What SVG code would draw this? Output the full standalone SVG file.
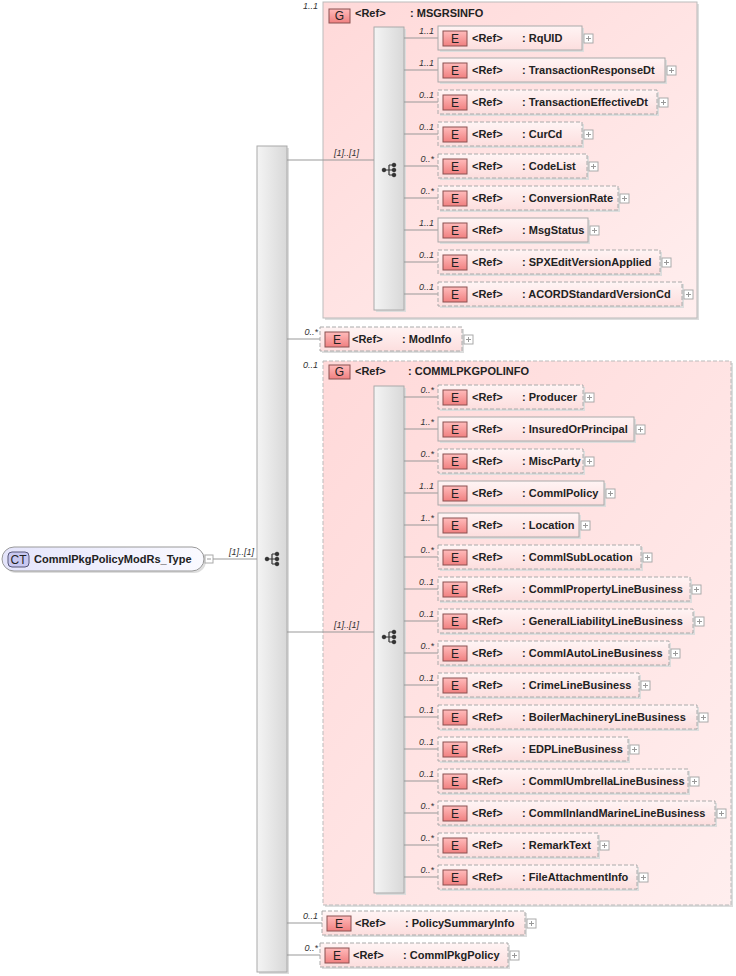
<svg xmlns="http://www.w3.org/2000/svg" width="736" height="976" viewBox="0 0 736 976">
<defs>
<linearGradient id="gE" x1="0" y1="0" x2="0" y2="1"><stop offset="0" stop-color="#fff4f4"/><stop offset="1" stop-color="#fcdede"/></linearGradient>
<linearGradient id="gL" x1="0" y1="0" x2="0" y2="1"><stop offset="0" stop-color="#fbb"/><stop offset="1" stop-color="#f08080"/></linearGradient>
<linearGradient id="gG" x1="0" y1="0" x2="1" y2="1"><stop offset="0" stop-color="#ffd9d9"/><stop offset="1" stop-color="#ffeeee"/></linearGradient>
<linearGradient id="gB" x1="0" y1="0" x2="1" y2="0"><stop offset="0" stop-color="#f4f4f4"/><stop offset="1" stop-color="#d8d8d8"/></linearGradient>
<linearGradient id="gC" x1="0" y1="0" x2="1" y2="0"><stop offset="0" stop-color="#e4e4fb"/><stop offset="1" stop-color="#fafaff"/></linearGradient>
</defs>
<style>
.sh{fill:#ddd;stroke:none}
.eb{fill:url(#gE);stroke:#aaa;stroke-width:1}
.d{stroke-dasharray:4 2}
.lb{fill:url(#gL);stroke:#8a5050;stroke-width:1}
.lt{font:12px "Liberation Sans",Arial,sans-serif;fill:#222;text-anchor:middle}
.t{font:bold 11px "Liberation Sans",Arial,sans-serif;fill:#222}
.c{font:italic 9px "Liberation Sans",Arial,sans-serif;fill:#333;text-anchor:end}
.pl{fill:#fff;stroke:#aaa}
.pp{stroke:#999;fill:none}
.ln{stroke:#999;fill:none}
.bar{fill:url(#gB);stroke:#aaa}
.grp{fill:url(#gG);stroke:#bbb}
.ic{fill:#333;stroke:#333}
</style>

<g id="root">
<rect x="4" y="549" width="202" height="24" rx="12" fill="#ddd"/>
<rect x="2" y="547" width="202" height="24" rx="12" fill="url(#gC)" stroke="#999"/>
<rect x="8" y="552" width="21" height="15" rx="4" fill="#c8c8f0" stroke="#557"/>
<text class="lt" x="18.5" y="564">CT</text>
<text class="t" x="34" y="563">CommlPkgPolicyModRs_Type</text>
<rect class="pl" x="205" y="555" width="8" height="8"/><path class="pp" d="M207 559h4"/>
</g>

<g id="seq-main">
<rect x="259" y="148" width="30" height="826" fill="#ddd"/>
<rect class="bar" x="257" y="146" width="30" height="826"/>
<g class="ic" transform="translate(272,559)"><path d="M-5 0H0M0-5V5M0-5H4M0 0H4M0 5H4" fill="none" stroke-width="1.2"/><circle cx="-5" cy="0" r="1.8"/><circle cx="5" cy="-5" r="1.8"/><circle cx="5" cy="0" r="1.8"/><circle cx="5" cy="5" r="1.8"/></g>
</g>

<g id="MSGRSINFO">
<rect x="325" y="4" width="374" height="316" fill="#ddd"/>
<rect class="grp" x="323" y="2" width="374" height="316"/>
<text class="c" x="318" y="9">1..1</text>
<rect x="329" y="9" width="21" height="14" fill="url(#gL)" stroke="#8a5050"/>
<text class="lt" x="339.5" y="20">G</text>
<text class="t" x="355" y="17">&lt;Ref&gt;</text>
<text class="t" x="410" y="17">: MSGRSINFO</text>
<rect x="376" y="29" width="30" height="283" fill="#ddd"/>
<rect class="bar" x="374" y="27" width="30" height="283"/>
<g class="ic" transform="translate(389,170)"><path d="M-5 0H0M0-5V5M0-5H4M0 0H4M0 5H4" fill="none" stroke-width="1.2"/><circle cx="-5" cy="0" r="1.8"/><circle cx="5" cy="-5" r="1.8"/><circle cx="5" cy="0" r="1.8"/><circle cx="5" cy="5" r="1.8"/></g>
</g>

<g id="COMMLPKGPOLINFO">
<rect x="325" y="363" width="408" height="544" fill="#ddd"/>
<rect class="grp d" x="323" y="361" width="408" height="544"/>
<text class="c" x="318" y="368">0..1</text>
<rect x="329" y="365" width="21" height="14" fill="url(#gL)" stroke="#8a5050"/>
<text class="lt" x="339.5" y="376">G</text>
<text class="t" x="355" y="375">&lt;Ref&gt;</text>
<text class="t" x="408" y="375">: COMMLPKGPOLINFO</text>
<rect x="376" y="388" width="30" height="507" fill="#ddd"/>
<rect class="bar" x="374" y="386" width="30" height="507"/>
<g class="ic" transform="translate(389,637)"><path d="M-5 0H0M0-5V5M0-5H4M0 0H4M0 5H4" fill="none" stroke-width="1.2"/><circle cx="-5" cy="0" r="1.8"/><circle cx="5" cy="-5" r="1.8"/><circle cx="5" cy="0" r="1.8"/><circle cx="5" cy="5" r="1.8"/></g>
</g>

<g id="connectors">
<path class="ln" d="M213 559H257M287 160H374M287 339H320M287 632H374M287 923H322M287 955H320"/>
<path class="ln" d="M404 38H438M404 70H438M404 102H438M404 134H438M404 166H438M404 198H438M404 230H438M404 262H438M404 294H438"/>
<path class="ln" d="M404 397H438M404 429H438M404 461H438M404 493H438M404 525H438M404 557H438M404 589H438M404 621H438M404 653H438M404 685H438M404 717H438M404 749H438M404 781H438M404 813H438M404 845H438M404 877H438"/>
<text class="c" x="254" y="555">[1]..[1]</text>
<text class="c" x="359" y="156">[1]..[1]</text>
<text class="c" x="359" y="628">[1]..[1]</text>
</g>

<g id="RqUID" transform="translate(438,38)"><rect class="sh" x="2" y="-10" width="144" height="24"/><rect class="eb" x="0" y="-12" width="144" height="24"/><rect class="lb" x="5" y="-7" width="24" height="15"/><text class="lt" x="17" y="5">E</text><text class="t" x="34" y="4">&lt;Ref&gt;</text><text class="t" x="84" y="4">: RqUID</text><rect class="pl" x="146" y="-4" width="9" height="9"/><path class="pp" d="M148 0.5h5M150.5 -2v5"/><text class="c" x="-4" y="-4">1..1</text></g>
<g id="TransactionResponseDt" transform="translate(438,70)"><rect class="sh" x="2" y="-10" width="227" height="24"/><rect class="eb" x="0" y="-12" width="227" height="24"/><rect class="lb" x="5" y="-7" width="24" height="15"/><text class="lt" x="17" y="5">E</text><text class="t" x="34" y="4">&lt;Ref&gt;</text><text class="t" x="84" y="4">: TransactionResponseDt</text><rect class="pl" x="229" y="-4" width="9" height="9"/><path class="pp" d="M231 0.5h5M233.5 -2v5"/><text class="c" x="-4" y="-4">1..1</text></g>
<g id="TransactionEffectiveDt" transform="translate(438,102)"><rect class="sh" x="2" y="-10" width="219" height="24"/><rect class="eb d" x="0" y="-12" width="219" height="24"/><rect class="lb" x="5" y="-7" width="24" height="15"/><text class="lt" x="17" y="5">E</text><text class="t" x="34" y="4">&lt;Ref&gt;</text><text class="t" x="84" y="4">: TransactionEffectiveDt</text><rect class="pl" x="221" y="-4" width="9" height="9"/><path class="pp" d="M223 0.5h5M225.5 -2v5"/><text class="c" x="-4" y="-4">0..1</text></g>
<g id="CurCd" transform="translate(438,134)"><rect class="sh" x="2" y="-10" width="144" height="24"/><rect class="eb d" x="0" y="-12" width="144" height="24"/><rect class="lb" x="5" y="-7" width="24" height="15"/><text class="lt" x="17" y="5">E</text><text class="t" x="34" y="4">&lt;Ref&gt;</text><text class="t" x="84" y="4">: CurCd</text><rect class="pl" x="146" y="-4" width="9" height="9"/><path class="pp" d="M148 0.5h5M150.5 -2v5"/><text class="c" x="-4" y="-4">0..1</text></g>
<g id="CodeList" transform="translate(438,166)"><rect class="sh" x="2" y="-10" width="149" height="24"/><rect class="eb d" x="0" y="-12" width="149" height="24"/><rect class="lb" x="5" y="-7" width="24" height="15"/><text class="lt" x="17" y="5">E</text><text class="t" x="34" y="4">&lt;Ref&gt;</text><text class="t" x="84" y="4">: CodeList</text><rect class="pl" x="151" y="-4" width="9" height="9"/><path class="pp" d="M153 0.5h5M155.5 -2v5"/><text class="c" x="-4" y="-4">0..*</text></g>
<g id="ConversionRate" transform="translate(438,198)"><rect class="sh" x="2" y="-10" width="180" height="24"/><rect class="eb d" x="0" y="-12" width="180" height="24"/><rect class="lb" x="5" y="-7" width="24" height="15"/><text class="lt" x="17" y="5">E</text><text class="t" x="34" y="4">&lt;Ref&gt;</text><text class="t" x="84" y="4">: ConversionRate</text><rect class="pl" x="182" y="-4" width="9" height="9"/><path class="pp" d="M184 0.5h5M186.5 -2v5"/><text class="c" x="-4" y="-4">0..*</text></g>
<g id="MsgStatus" transform="translate(438,230)"><rect class="sh" x="2" y="-10" width="150" height="24"/><rect class="eb" x="0" y="-12" width="150" height="24"/><rect class="lb" x="5" y="-7" width="24" height="15"/><text class="lt" x="17" y="5">E</text><text class="t" x="34" y="4">&lt;Ref&gt;</text><text class="t" x="84" y="4">: MsgStatus</text><rect class="pl" x="152" y="-4" width="9" height="9"/><path class="pp" d="M154 0.5h5M156.5 -2v5"/><text class="c" x="-4" y="-4">1..1</text></g>
<g id="SPXEditVersionApplied" transform="translate(438,262)"><rect class="sh" x="2" y="-10" width="222" height="24"/><rect class="eb d" x="0" y="-12" width="222" height="24"/><rect class="lb" x="5" y="-7" width="24" height="15"/><text class="lt" x="17" y="5">E</text><text class="t" x="34" y="4">&lt;Ref&gt;</text><text class="t" x="84" y="4">: SPXEditVersionApplied</text><rect class="pl" x="224" y="-4" width="9" height="9"/><path class="pp" d="M226 0.5h5M228.5 -2v5"/><text class="c" x="-4" y="-4">0..1</text></g>
<g id="ACORDStandardVersionCd" transform="translate(438,294)"><rect class="sh" x="2" y="-10" width="244" height="24"/><rect class="eb d" x="0" y="-12" width="244" height="24"/><rect class="lb" x="5" y="-7" width="24" height="15"/><text class="lt" x="17" y="5">E</text><text class="t" x="34" y="4">&lt;Ref&gt;</text><text class="t" x="84" y="4">: ACORDStandardVersionCd</text><rect class="pl" x="246" y="-4" width="9" height="9"/><path class="pp" d="M248 0.5h5M250.5 -2v5"/><text class="c" x="-4" y="-4">0..1</text></g>

<g id="ModInfo" transform="translate(320,339)"><rect class="sh" x="2" y="-10" width="142" height="24"/><rect class="eb d" x="0" y="-12" width="142" height="24"/><rect class="lb" x="5" y="-7" width="24" height="15"/><text class="lt" x="17" y="5">E</text><text class="t" x="32" y="4">&lt;Ref&gt;</text><text class="t" x="82" y="4">: ModInfo</text><rect class="pl" x="144" y="-4" width="9" height="9"/><path class="pp" d="M146 0.5h5M148.5 -2v5"/><text class="c" x="-2" y="-4">0..*</text></g>

<g id="Producer" transform="translate(438,397)"><rect class="sh" x="2" y="-10" width="145" height="24"/><rect class="eb d" x="0" y="-12" width="145" height="24"/><rect class="lb" x="5" y="-7" width="24" height="15"/><text class="lt" x="17" y="5">E</text><text class="t" x="34" y="4">&lt;Ref&gt;</text><text class="t" x="84" y="4">: Producer</text><rect class="pl" x="147" y="-4" width="9" height="9"/><path class="pp" d="M149 0.5h5M151.5 -2v5"/><text class="c" x="-4" y="-4">0..*</text></g>
<g id="InsuredOrPrincipal" transform="translate(438,429)"><rect class="sh" x="2" y="-10" width="196" height="24"/><rect class="eb" x="0" y="-12" width="196" height="24"/><rect class="lb" x="5" y="-7" width="24" height="15"/><text class="lt" x="17" y="5">E</text><text class="t" x="34" y="4">&lt;Ref&gt;</text><text class="t" x="84" y="4">: InsuredOrPrincipal</text><rect class="pl" x="198" y="-4" width="9" height="9"/><path class="pp" d="M200 0.5h5M202.5 -2v5"/><text class="c" x="-4" y="-4">1..*</text></g>
<g id="MiscParty" transform="translate(438,461)"><rect class="sh" x="2" y="-10" width="145" height="24"/><rect class="eb d" x="0" y="-12" width="145" height="24"/><rect class="lb" x="5" y="-7" width="24" height="15"/><text class="lt" x="17" y="5">E</text><text class="t" x="34" y="4">&lt;Ref&gt;</text><text class="t" x="84" y="4">: MiscParty</text><rect class="pl" x="147" y="-4" width="9" height="9"/><path class="pp" d="M149 0.5h5M151.5 -2v5"/><text class="c" x="-4" y="-4">0..*</text></g>
<g id="CommlPolicy" transform="translate(438,493)"><rect class="sh" x="2" y="-10" width="166" height="24"/><rect class="eb" x="0" y="-12" width="166" height="24"/><rect class="lb" x="5" y="-7" width="24" height="15"/><text class="lt" x="17" y="5">E</text><text class="t" x="34" y="4">&lt;Ref&gt;</text><text class="t" x="84" y="4">: CommlPolicy</text><rect class="pl" x="168" y="-4" width="9" height="9"/><path class="pp" d="M170 0.5h5M172.5 -2v5"/><text class="c" x="-4" y="-4">1..1</text></g>
<g id="Location" transform="translate(438,525)"><rect class="sh" x="2" y="-10" width="141" height="24"/><rect class="eb" x="0" y="-12" width="141" height="24"/><rect class="lb" x="5" y="-7" width="24" height="15"/><text class="lt" x="17" y="5">E</text><text class="t" x="34" y="4">&lt;Ref&gt;</text><text class="t" x="84" y="4">: Location</text><rect class="pl" x="143" y="-4" width="9" height="9"/><path class="pp" d="M145 0.5h5M147.5 -2v5"/><text class="c" x="-4" y="-4">1..*</text></g>
<g id="CommlSubLocation" transform="translate(438,557)"><rect class="sh" x="2" y="-10" width="203" height="24"/><rect class="eb d" x="0" y="-12" width="203" height="24"/><rect class="lb" x="5" y="-7" width="24" height="15"/><text class="lt" x="17" y="5">E</text><text class="t" x="34" y="4">&lt;Ref&gt;</text><text class="t" x="84" y="4">: CommlSubLocation</text><rect class="pl" x="205" y="-4" width="9" height="9"/><path class="pp" d="M207 0.5h5M209.5 -2v5"/><text class="c" x="-4" y="-4">0..*</text></g>
<g id="CommlPropertyLineBusiness" transform="translate(438,589)"><rect class="sh" x="2" y="-10" width="252" height="24"/><rect class="eb d" x="0" y="-12" width="252" height="24"/><rect class="lb" x="5" y="-7" width="24" height="15"/><text class="lt" x="17" y="5">E</text><text class="t" x="34" y="4">&lt;Ref&gt;</text><text class="t" x="84" y="4">: CommlPropertyLineBusiness</text><rect class="pl" x="254" y="-4" width="9" height="9"/><path class="pp" d="M256 0.5h5M258.5 -2v5"/><text class="c" x="-4" y="-4">0..1</text></g>
<g id="GeneralLiabilityLineBusiness" transform="translate(438,621)"><rect class="sh" x="2" y="-10" width="255" height="24"/><rect class="eb d" x="0" y="-12" width="255" height="24"/><rect class="lb" x="5" y="-7" width="24" height="15"/><text class="lt" x="17" y="5">E</text><text class="t" x="34" y="4">&lt;Ref&gt;</text><text class="t" x="84" y="4">: GeneralLiabilityLineBusiness</text><rect class="pl" x="257" y="-4" width="9" height="9"/><path class="pp" d="M259 0.5h5M261.5 -2v5"/><text class="c" x="-4" y="-4">0..1</text></g>
<g id="CommlAutoLineBusiness" transform="translate(438,653)"><rect class="sh" x="2" y="-10" width="231" height="24"/><rect class="eb d" x="0" y="-12" width="231" height="24"/><rect class="lb" x="5" y="-7" width="24" height="15"/><text class="lt" x="17" y="5">E</text><text class="t" x="34" y="4">&lt;Ref&gt;</text><text class="t" x="84" y="4">: CommlAutoLineBusiness</text><rect class="pl" x="233" y="-4" width="9" height="9"/><path class="pp" d="M235 0.5h5M237.5 -2v5"/><text class="c" x="-4" y="-4">0..*</text></g>
<g id="CrimeLineBusiness" transform="translate(438,685)"><rect class="sh" x="2" y="-10" width="201" height="24"/><rect class="eb d" x="0" y="-12" width="201" height="24"/><rect class="lb" x="5" y="-7" width="24" height="15"/><text class="lt" x="17" y="5">E</text><text class="t" x="34" y="4">&lt;Ref&gt;</text><text class="t" x="84" y="4">: CrimeLineBusiness</text><rect class="pl" x="203" y="-4" width="9" height="9"/><path class="pp" d="M205 0.5h5M207.5 -2v5"/><text class="c" x="-4" y="-4">0..1</text></g>
<g id="BoilerMachineryLineBusiness" transform="translate(438,717)"><rect class="sh" x="2" y="-10" width="259" height="24"/><rect class="eb d" x="0" y="-12" width="259" height="24"/><rect class="lb" x="5" y="-7" width="24" height="15"/><text class="lt" x="17" y="5">E</text><text class="t" x="34" y="4">&lt;Ref&gt;</text><text class="t" x="84" y="4">: BoilerMachineryLineBusiness</text><rect class="pl" x="261" y="-4" width="9" height="9"/><path class="pp" d="M263 0.5h5M265.5 -2v5"/><text class="c" x="-4" y="-4">0..1</text></g>
<g id="EDPLineBusiness" transform="translate(438,749)"><rect class="sh" x="2" y="-10" width="190" height="24"/><rect class="eb d" x="0" y="-12" width="190" height="24"/><rect class="lb" x="5" y="-7" width="24" height="15"/><text class="lt" x="17" y="5">E</text><text class="t" x="34" y="4">&lt;Ref&gt;</text><text class="t" x="84" y="4">: EDPLineBusiness</text><rect class="pl" x="192" y="-4" width="9" height="9"/><path class="pp" d="M194 0.5h5M196.5 -2v5"/><text class="c" x="-4" y="-4">0..1</text></g>
<g id="CommlUmbrellaLineBusiness" transform="translate(438,781)"><rect class="sh" x="2" y="-10" width="250" height="24"/><rect class="eb d" x="0" y="-12" width="250" height="24"/><rect class="lb" x="5" y="-7" width="24" height="15"/><text class="lt" x="17" y="5">E</text><text class="t" x="34" y="4">&lt;Ref&gt;</text><text class="t" x="84" y="4">: CommlUmbrellaLineBusiness</text><rect class="pl" x="252" y="-4" width="9" height="9"/><path class="pp" d="M254 0.5h5M256.5 -2v5"/><text class="c" x="-4" y="-4">0..1</text></g>
<g id="CommlInlandMarineLineBusiness" transform="translate(438,813)"><rect class="sh" x="2" y="-10" width="277" height="24"/><rect class="eb d" x="0" y="-12" width="277" height="24"/><rect class="lb" x="5" y="-7" width="24" height="15"/><text class="lt" x="17" y="5">E</text><text class="t" x="34" y="4">&lt;Ref&gt;</text><text class="t" x="84" y="4">: CommlInlandMarineLineBusiness</text><rect class="pl" x="279" y="-4" width="9" height="9"/><path class="pp" d="M281 0.5h5M283.5 -2v5"/><text class="c" x="-4" y="-4">0..*</text></g>
<g id="RemarkText" transform="translate(438,845)"><rect class="sh" x="2" y="-10" width="160" height="24"/><rect class="eb d" x="0" y="-12" width="160" height="24"/><rect class="lb" x="5" y="-7" width="24" height="15"/><text class="lt" x="17" y="5">E</text><text class="t" x="34" y="4">&lt;Ref&gt;</text><text class="t" x="84" y="4">: RemarkText</text><rect class="pl" x="162" y="-4" width="9" height="9"/><path class="pp" d="M164 0.5h5M166.5 -2v5"/><text class="c" x="-4" y="-4">0..*</text></g>
<g id="FileAttachmentInfo" transform="translate(438,877)"><rect class="sh" x="2" y="-10" width="199" height="24"/><rect class="eb d" x="0" y="-12" width="199" height="24"/><rect class="lb" x="5" y="-7" width="24" height="15"/><text class="lt" x="17" y="5">E</text><text class="t" x="34" y="4">&lt;Ref&gt;</text><text class="t" x="84" y="4">: FileAttachmentInfo</text><rect class="pl" x="201" y="-4" width="9" height="9"/><path class="pp" d="M203 0.5h5M205.5 -2v5"/><text class="c" x="-4" y="-4">0..*</text></g>

<g id="PolicySummaryInfo" transform="translate(322,923)"><rect class="sh" x="2" y="-10" width="203" height="24"/><rect class="eb d" x="0" y="-12" width="203" height="24"/><rect class="lb" x="5" y="-7" width="24" height="15"/><text class="lt" x="17" y="5">E</text><text class="t" x="33" y="4">&lt;Ref&gt;</text><text class="t" x="83" y="4">: PolicySummaryInfo</text><rect class="pl" x="205" y="-4" width="9" height="9"/><path class="pp" d="M207 0.5h5M209.5 -2v5"/><text class="c" x="-4" y="-4">0..1</text></g>
<g id="CommlPkgPolicy" transform="translate(320,955)"><rect class="sh" x="2" y="-10" width="188" height="24"/><rect class="eb d" x="0" y="-12" width="188" height="24"/><rect class="lb" x="5" y="-7" width="24" height="15"/><text class="lt" x="17" y="5">E</text><text class="t" x="33" y="4">&lt;Ref&gt;</text><text class="t" x="83" y="4">: CommlPkgPolicy</text><rect class="pl" x="190" y="-4" width="9" height="9"/><path class="pp" d="M192 0.5h5M194.5 -2v5"/><text class="c" x="-2" y="-4">0..*</text></g>
</svg>
